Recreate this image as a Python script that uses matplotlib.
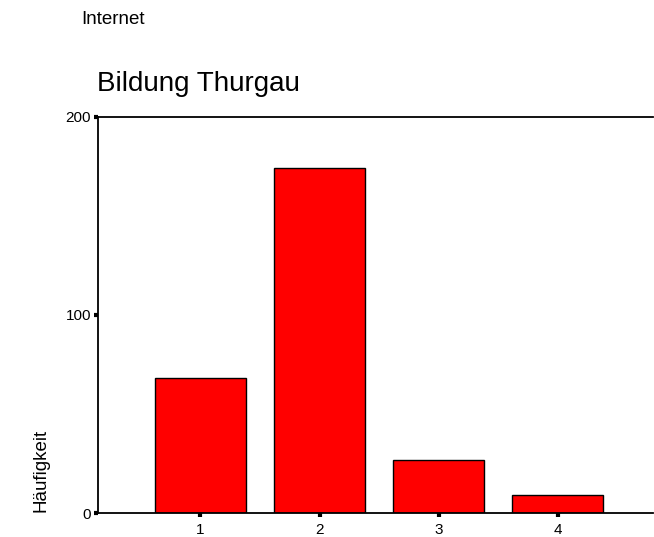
import matplotlib
matplotlib.use("Agg")
import matplotlib.pyplot as plt

plt.rcParams['font.family'] = ['Liberation Sans', 'DejaVu Sans']

# Bildung Thurgau - Häufigkeiten
categories = [1, 2, 3, 4]
counts = [68, 174, 27, 9]
tick_labels = ["1", "2", "3", "4"]
y_ticks = [0, 100, 200]

fig = plt.figure(figsize=(6.54, 5.37), dpi=100)
ax = fig.add_axes([0.1498, 0.0441, 0.8487, 0.7389])

ax.bar(categories, counts, width=0.76, color='#ff0000', edgecolor='black', linewidth=1.0)

ax.set_xlim(0.14, 4.80)
ax.set_ylim(0, 200)
ax.set_xticks(categories)
ax.set_xticklabels(tick_labels)
ax.set_yticks(y_ticks)

ax.spines['right'].set_visible(False)
for s in ['left', 'top', 'bottom']:
    ax.spines[s].set_linewidth(1.3)

ax.tick_params(axis='both', direction='out', length=3, width=3, labelsize=11)
ax.tick_params(axis='x', pad=4)
ax.tick_params(axis='y', pad=2)

# y label sits at the bottom of the axis, like the original
fig.text(0.0627, 0.0466, "Häufigkeit", fontsize=13.5, rotation=90,
         ha='center', va='bottom')

fig.text(0.1239, 0.9553, "Internet", fontsize=13.5, ha='left', va='baseline')
fig.text(0.149, 0.8305, "Bildung Thurgau", fontsize=20, ha='left', va='baseline')

fig.savefig("out.png", dpi=100)
